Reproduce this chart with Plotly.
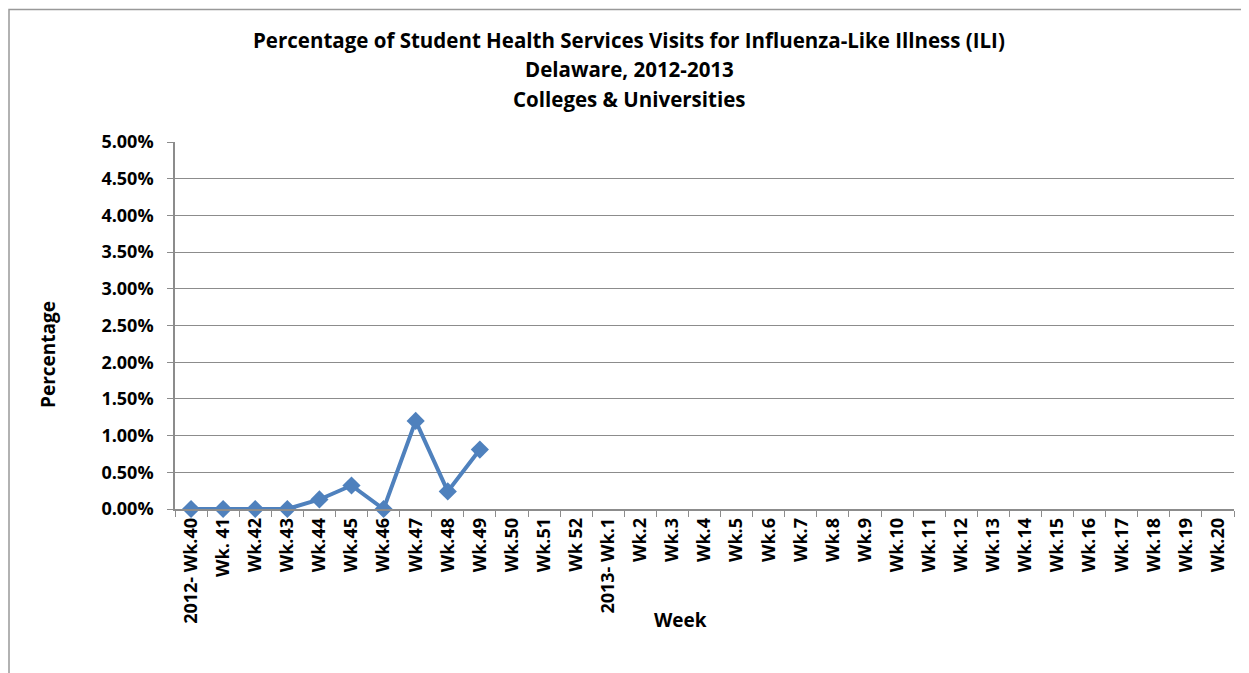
import plotly.graph_objects as go

weeks = ["2012- Wk.40", "Wk. 41", "Wk.42", "Wk.43", "Wk.44", "Wk.45", "Wk.46", "Wk.47",
         "Wk.48", "Wk.49", "Wk.50", "Wk.51", "Wk 52", "2013- Wk.1", "Wk.2", "Wk.3", "Wk.4",
         "Wk.5", "Wk.6", "Wk.7", "Wk.8", "Wk.9", "Wk.10", "Wk.11", "Wk.12", "Wk.13", "Wk.14",
         "Wk.15", "Wk.16", "Wk.17", "Wk.18", "Wk.19", "Wk.20"]
ili_pct = [0.0, 0.0, 0.0, 0.0, 0.0013, 0.0032, 0.0, 0.0120, 0.0024, 0.0081]

title_lines = ["Percentage of Student Health Services Visits for Influenza-Like Illness (ILI)",
               "Delaware, 2012-2013",
               "Colleges & Universities"]

FONT = "Open Sans"
BLUE = "#4F81BD"
GRID = "#8C8C8C"

# page body has an 8px margin; work in screen coords and convert
OFF = 8
W, H = 1249 - OFF, 673 - OFF
PL, PR, PT, PB = 175, 1234, 142, 509  # plot area in screen coords
L, T = PL - OFF, PT - OFF
R = W - (PR - OFF)
B = H - (PB - OFF)
pw, ph = W - L - R, H - T - B

fig = go.Figure()
fig.add_trace(go.Scatter(
    x=weeks[:len(ili_pct)], y=ili_pct, mode="lines+markers",
    line=dict(color=BLUE, width=4),
    marker=dict(symbol="diamond", size=14, color=BLUE),
    showlegend=False, cliponaxis=False,
))

fig.update_layout(
    width=W, height=H,
    margin=dict(l=L, r=R, t=T, b=B),
    paper_bgcolor="white", plot_bgcolor="white",
    font=dict(family=FONT, color="black"),
)
fig.update_xaxes(
    type="category", categoryorder="array", categoryarray=weeks,
    range=[-0.5, len(weeks) - 0.5],
    tickson="boundaries", ticks="outside", ticklen=6, tickcolor=GRID,
    showline=True, linecolor=GRID, linewidth=1.5,
    showgrid=False, tickangle=-90,
    tickfont=dict(family=FONT, size=18, color="black", weight="bold"),
)
fig.update_yaxes(
    range=[0, 0.05], dtick=0.005, tickformat=".2%",
    ticks="outside", ticklen=6, tickcolor=GRID,
    showline=True, linecolor=GRID, linewidth=1.5,
    showgrid=True, gridcolor=GRID, gridwidth=1, zeroline=False,
    ticklabelstandoff=10,
    tickfont=dict(family=FONT, size=18, color="black", weight="bold"),
)

def px_x(x):
    return (x - OFF - L) / pw

def px_y(y):
    return (H - B - (y - OFF)) / ph

for t, yy in zip(title_lines, [40, 69, 99]):
    fig.add_annotation(text=t, xref="paper", yref="paper", x=px_x(629), y=px_y(yy),
                       showarrow=False, xanchor="center", yanchor="middle",
                       font=dict(family=FONT, size=20.5, color="black", weight="bold"))

fig.add_annotation(text="Percentage", xref="paper", yref="paper", x=px_x(48), y=px_y(355),
                   showarrow=False, textangle=-90, xanchor="center", yanchor="middle",
                   font=dict(family=FONT, size=19, color="black", weight="bold"))
fig.add_annotation(text="Week", xref="paper", yref="paper", x=px_x(680), y=px_y(620),
                   showarrow=False, xanchor="center", yanchor="middle",
                   font=dict(family=FONT, size=19, color="black", weight="bold"))

# chart frame border
fig.add_shape(type="rect", xref="paper", yref="paper",
              x0=px_x(9), x1=px_x(1270), y0=px_y(700), y1=px_y(9.5),
              line=dict(color="#999999", width=1.5), fillcolor="rgba(0,0,0,0)", layer="below")

fig.write_html("out.html")
